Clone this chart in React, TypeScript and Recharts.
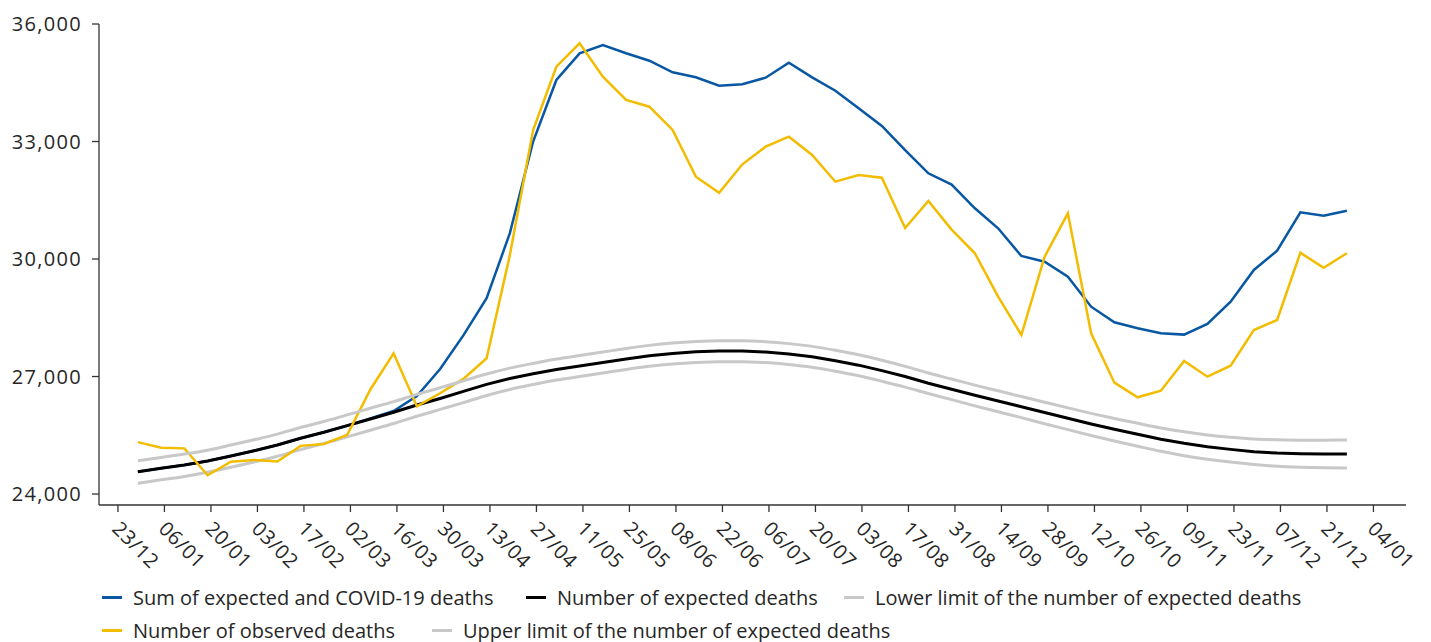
import React from 'react';
import { LineChart, Line, XAxis, YAxis, Legend } from 'recharts';

const FONT = "'Open Sans', sans-serif";
const TEXT = '#262626';
const BASE = Date.UTC(2019, 11, 23);

// week-ending dates of the weekly series
const weeks = [
  '2019-12-29', '2020-01-05', '2020-01-12', '2020-01-19', '2020-01-26', '2020-02-02', '2020-02-09',
  '2020-02-16', '2020-02-23', '2020-03-01', '2020-03-08', '2020-03-15', '2020-03-22', '2020-03-29',
  '2020-04-05', '2020-04-12', '2020-04-19', '2020-04-26', '2020-05-03', '2020-05-10', '2020-05-17',
  '2020-05-24', '2020-05-31', '2020-06-07', '2020-06-14', '2020-06-21', '2020-06-28', '2020-07-05',
  '2020-07-12', '2020-07-19', '2020-07-26', '2020-08-02', '2020-08-09', '2020-08-16', '2020-08-23',
  '2020-08-30', '2020-09-06', '2020-09-13', '2020-09-20', '2020-09-27', '2020-10-04', '2020-10-11',
  '2020-10-18', '2020-10-25', '2020-11-01', '2020-11-08', '2020-11-15', '2020-11-22', '2020-11-29',
  '2020-12-06', '2020-12-13', '2020-12-20', '2020-12-27',
];

// x-axis tick dates (every two weeks)
const tickDates = [
  '2019-12-23', '2020-01-06', '2020-01-20', '2020-02-03', '2020-02-17', '2020-03-02', '2020-03-16',
  '2020-03-30', '2020-04-13', '2020-04-27', '2020-05-11', '2020-05-25', '2020-06-08', '2020-06-22',
  '2020-07-06', '2020-07-20', '2020-08-03', '2020-08-17', '2020-08-31', '2020-09-14', '2020-09-28',
  '2020-10-12', '2020-10-26', '2020-11-09', '2020-11-23', '2020-12-07', '2020-12-21', '2021-01-04',
];

const yTicks = [24000, 27000, 30000, 33000, 36000];

const sumExpectedCovid = [
  24570, 24657, 24741, 24843, 24971, 25107, 25252, 25423, 25576, 25745,
  25930, 26120, 26500, 27190, 28050, 29000, 30660, 33000, 34570, 35250,
  35464, 35252, 35063, 34767, 34639, 34425, 34460, 34629, 35012, 34639,
  34297, 33848, 33396, 32783, 32188, 31900, 31295, 30784, 30077, 29932,
  29549, 28783, 28384, 28231, 28104, 28070, 28341, 28910, 29720, 30212,
  31193, 31106, 31234,
];

const expected = [
  24570, 24657, 24741, 24843, 24971, 25107, 25252, 25423, 25576, 25745,
  25916, 26087, 26273, 26440, 26620, 26800, 26950, 27070, 27180, 27270,
  27360, 27450, 27530, 27590, 27630, 27650, 27650, 27625, 27575, 27505,
  27405, 27290, 27150, 27000, 26830, 26675, 26520, 26375, 26230, 26080,
  25935, 25790, 25655, 25525, 25400, 25295, 25210, 25140, 25080, 25045,
  25030, 25022, 25025,
];

const lowerLimit = [
  24275, 24365, 24450, 24555, 24685, 24820, 24965, 25135, 25290, 25460,
  25630, 25800, 25985, 26160, 26335, 26515, 26670, 26795, 26910, 27000,
  27090, 27180, 27260, 27320, 27360, 27380, 27380, 27355, 27305, 27235,
  27135, 27020, 26880, 26730, 26565, 26410, 26250, 26100, 25950, 25795,
  25645, 25495, 25355, 25220, 25090, 24980, 24890, 24815, 24755, 24710,
  24685, 24670, 24665,
];

const observed = [
  25325, 25183, 25166, 24480, 24826, 24869, 24830, 25230, 25280, 25507,
  26670, 27593, 26240, 26572, 26940, 27465, 30100, 33294, 34910, 35507,
  34655, 34060, 33889, 33294, 32102, 31693, 32418, 32868, 33123, 32656,
  31974, 32145, 32076, 30792, 31481, 30750, 30146, 29038, 28060, 30059,
  31167, 28104, 26843, 26469, 26638, 27396, 26996, 27277, 28188, 28443,
  30161, 29778, 30146,
];

const upperLimit = [
  24850, 24935, 25020, 25120, 25250, 25385, 25530, 25700, 25850, 26020,
  26190, 26360, 26545, 26715, 26890, 27065, 27215, 27335, 27445, 27535,
  27625, 27715, 27795, 27855, 27895, 27915, 27915, 27890, 27840, 27770,
  27670, 27555, 27415, 27260, 27090, 26935, 26780, 26635, 26490, 26345,
  26200, 26060, 25930, 25805, 25685, 25590, 25510, 25450, 25405, 25385,
  25375, 25375, 25380,
];

const toDay = (iso: string) => {
  const [y, m, d] = iso.split('-').map(Number);
  return (Date.UTC(y, m - 1, d) - BASE) / 86400000;
};

const dayLabel = (day: number) => {
  const dt = new Date(BASE + day * 86400000);
  const dd = String(dt.getUTCDate()).padStart(2, '0');
  const mm = String(dt.getUTCMonth() + 1).padStart(2, '0');
  return `${dd}/${mm}`;
};

const chartData = weeks.map((w, i) => ({
  day: toDay(w),
  sum: sumExpectedCovid[i],
  expected: expected[i],
  lower: lowerLimit[i],
  observed: observed[i],
  upper: upperLimit[i],
}));

const tickDays = tickDates.map(toDay);

const XTick = (props: any) => {
  const { x, y, payload } = props;
  return (
    <g transform={`translate(${x},${y})`}>
      <text
        x={-7}
        y={18}
        transform="rotate(45 -7 18)"
        textAnchor="start"
        fill={TEXT}
        fontSize={20}
        fontFamily={FONT}
        letterSpacing={0.6}
      >
        {dayLabel(payload.value)}
      </text>
    </g>
  );
};

// legend placement, keyed by series
const legendSlots: Record<string, { left: number; top: number }> = {
  sum: { left: 102, top: 5 },
  expected: { left: 526, top: 5 },
  lower: { left: 844, top: 5 },
  observed: { left: 102, top: 38 },
  upper: { left: 432, top: 38 },
};

const renderLegend = (props: any) => {
  const { payload } = props;
  return (
    <div style={{ position: 'relative', width: 1431, height: 62, fontFamily: FONT, fontSize: 20, color: TEXT }}>
      {(payload || []).map((entry: any) => {
        const slot = legendSlots[entry.dataKey] || { left: 0, top: 0 };
        return (
          <div
            key={entry.dataKey}
            style={{
              position: 'absolute',
              left: slot.left,
              top: slot.top,
              height: 24,
              display: 'flex',
              alignItems: 'center',
              whiteSpace: 'nowrap',
            }}
          >
            <span style={{ display: 'inline-block', width: 20, height: 3, background: entry.color, marginRight: 11 }} />
            <span>{entry.value}</span>
          </div>
        );
      })}
    </div>
  );
};

export default function App() {
  return (
    <div style={{ position: 'absolute', left: 0, top: 0, background: '#fff' }}>
      <LineChart width={1431} height={642} data={chartData} margin={{ top: 24, right: 25, bottom: 0, left: 0 }}>
        <XAxis
          dataKey="day"
          type="number"
          domain={[-5.7, 387.8]}
          ticks={tickDays}
          interval={0}
          height={75}
          tickSize={7}
          tickMargin={0}
          stroke="#333"
          strokeWidth={1.3}
          tick={<XTick />}
        />
        <YAxis
          type="number"
          domain={[23720, 36000]}
          ticks={yTicks}
          interval={0}
          width={99}
          tickSize={7}
          tickMargin={10}
          stroke="#333"
          strokeWidth={1.3}
          tickFormatter={(v: number) => v.toLocaleString('en-US')}
          tick={{ fill: TEXT, fontSize: 20, fontFamily: FONT, letterSpacing: 1.3 }}
        />
        <Legend
          content={renderLegend}
          wrapperStyle={{ left: 0, top: 580, width: 1431, height: 62 }}
        />
        <Line type="linear" dataKey="sum" name="Sum of expected and COVID-19 deaths" stroke="#0857A3" strokeWidth={2.5} dot={false} isAnimationActive={false} />
        <Line type="linear" dataKey="expected" name="Number of expected deaths" stroke="#000000" strokeWidth={3} dot={false} isAnimationActive={false} />
        <Line type="monotone" dataKey="lower" name="Lower limit of the number of expected deaths" stroke="#C8C8C8" strokeWidth={3} dot={false} isAnimationActive={false} />
        <Line type="linear" dataKey="observed" name="Number of observed deaths" stroke="#F2BC00" strokeWidth={2.5} dot={false} isAnimationActive={false} />
        <Line type="monotone" dataKey="upper" name="Upper limit of the number of expected deaths" stroke="#C8C8C8" strokeWidth={3} dot={false} isAnimationActive={false} />
      </LineChart>
    </div>
  );
}
